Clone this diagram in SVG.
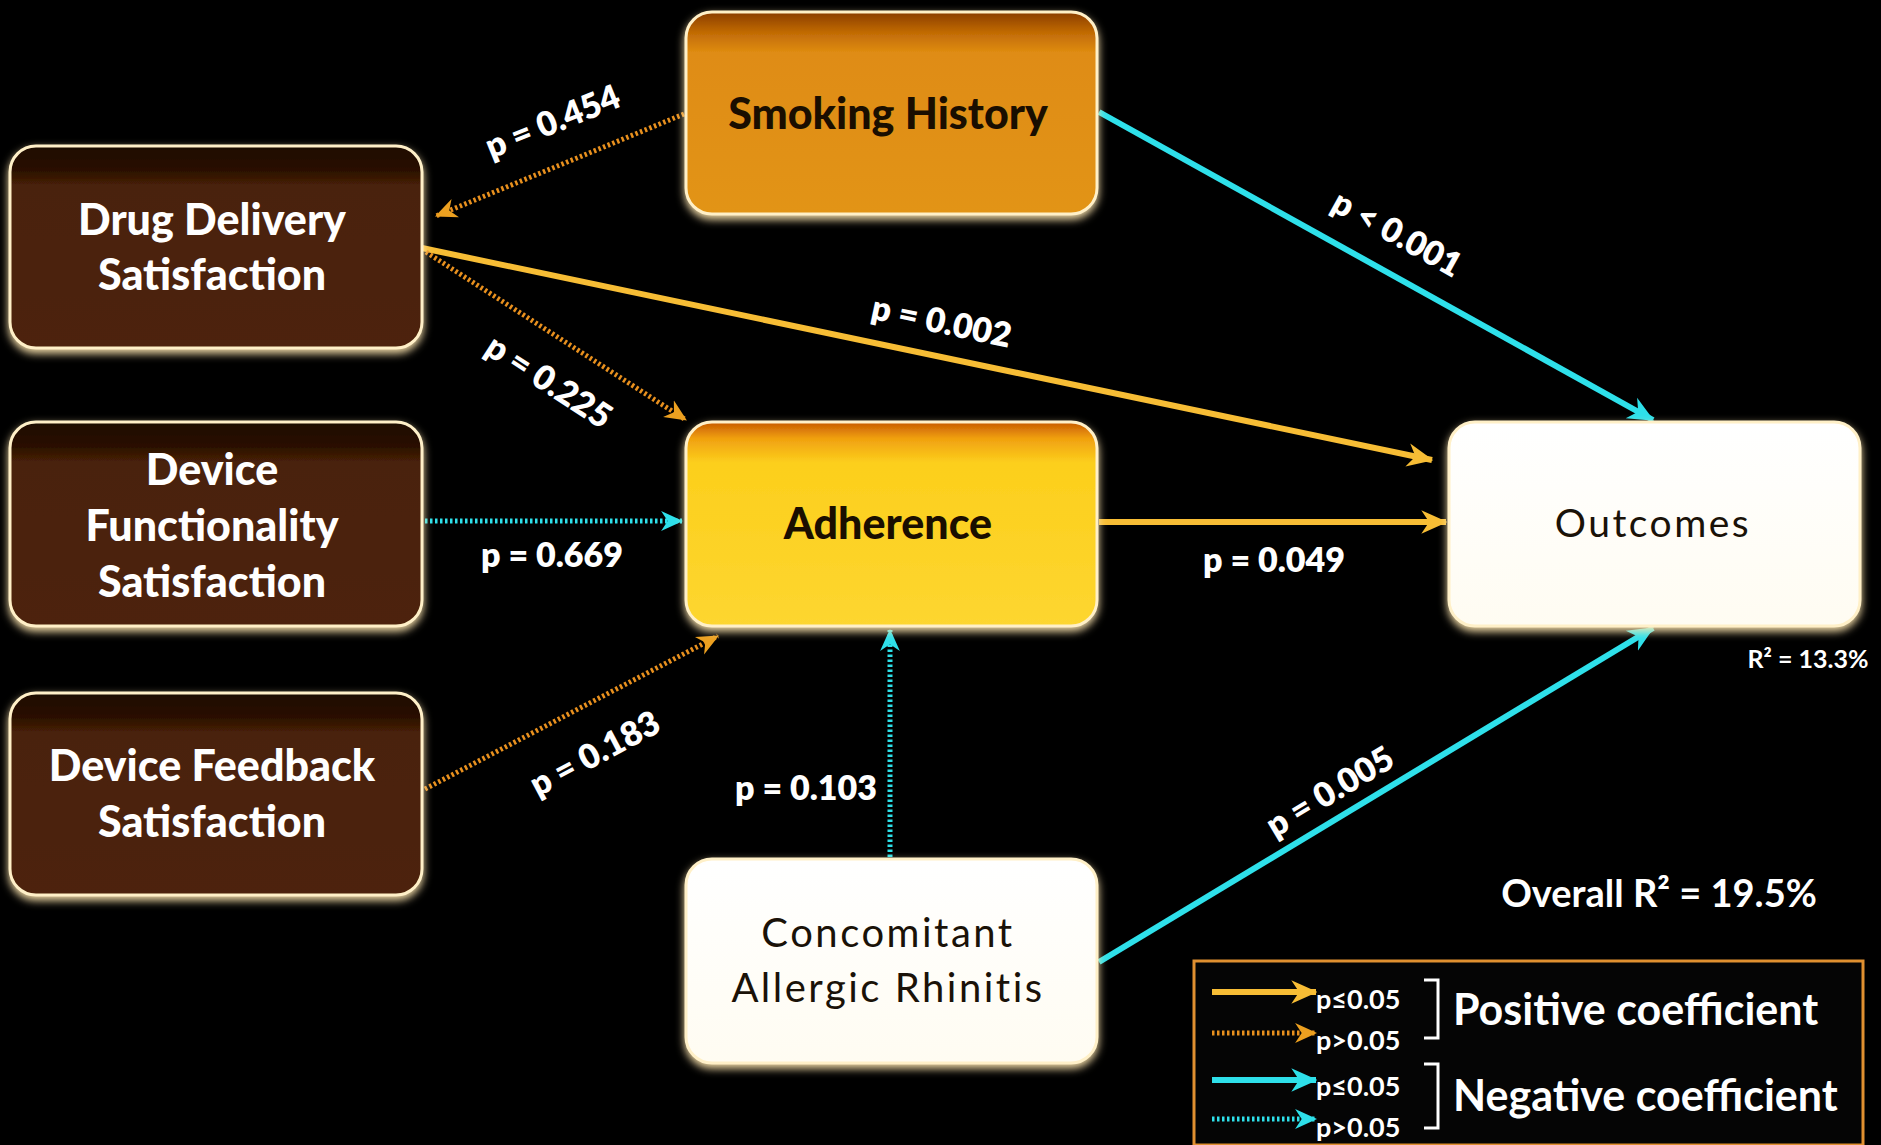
<svg xmlns="http://www.w3.org/2000/svg" width="1881" height="1145" viewBox="0 0 1881 1145">
<style>
.t{font-family:Lato,"Open Sans","Liberation Sans",sans-serif;font-weight:900;text-anchor:middle;dominant-baseline:central}
.w{fill:#ffffff}
.d{fill:#1a0e00}
.o{font-weight:400;letter-spacing:2.5px;fill:#1a1208}
.p{font-size:34px;font-weight:800}
.nd{stroke:#fff0c8;stroke-width:3}
.sg{stroke:#f7bd35;stroke-width:6;fill:none}
.dg{stroke:#e8901e;stroke-width:5;fill:none;stroke-dasharray:2.5 2.5}
.sc{stroke:#2ee0ea;stroke-width:6;fill:none}
.dc{stroke:#2ee0ea;stroke-width:5;fill:none;stroke-dasharray:2.5 2.5}
.lg{font-family:Lato,"Open Sans","Liberation Sans",sans-serif;font-weight:700;fill:#ffffff}
</style>
<defs>
<linearGradient id="gBrown" x1="0" y1="0" x2="0" y2="1">
<stop offset="0" stop-color="#1e0a00"/><stop offset="0.12" stop-color="#2a1002"/><stop offset="0.2" stop-color="#4a2208"/><stop offset="1" stop-color="#4d2409"/>
</linearGradient>
<linearGradient id="gSmoke" x1="0" y1="0" x2="0" y2="1">
<stop offset="0" stop-color="#8a3c00"/><stop offset="0.1" stop-color="#c06a05"/><stop offset="0.2" stop-color="#df8c12"/><stop offset="1" stop-color="#e29414"/>
</linearGradient>
<linearGradient id="gAdh" x1="0" y1="0" x2="0" y2="1">
<stop offset="0" stop-color="#c85a00"/><stop offset="0.08" stop-color="#f0a010"/><stop offset="0.2" stop-color="#fccf1c"/><stop offset="1" stop-color="#fdd630"/>
</linearGradient>
<linearGradient id="gWhite" x1="0" y1="0" x2="0" y2="1">
<stop offset="0" stop-color="#ffffff"/><stop offset="1" stop-color="#fffcf2"/>
</linearGradient>
<filter id="glow" x="-10%" y="-15%" width="120%" height="135%">
<feGaussianBlur in="SourceAlpha" stdDeviation="4" result="b"/>
<feOffset in="b" dy="4" result="o"/>
<feFlood flood-color="#ffe7b0" flood-opacity="0.95"/>
<feComposite in2="o" operator="in" result="g"/>
<feMerge><feMergeNode in="g"/><feMergeNode in="SourceGraphic"/></feMerge>
</filter>
<marker id="ag" viewBox="0 0 20 20" refX="19" refY="10" markerWidth="26" markerHeight="26" markerUnits="userSpaceOnUse" orient="auto"><path d="M0,1 L20,10 L0,19 L6,10 z" fill="#f7bd35"/></marker>
<marker id="ao" viewBox="0 0 20 20" refX="19" refY="10" markerWidth="22" markerHeight="22" markerUnits="userSpaceOnUse" orient="auto"><path d="M0,1 L20,10 L0,19 L6,10 z" fill="#eca020"/></marker>
<marker id="ac" viewBox="0 0 20 20" refX="19" refY="10" markerWidth="26" markerHeight="26" markerUnits="userSpaceOnUse" orient="auto"><path d="M0,1 L20,10 L0,19 L6,10 z" fill="#2ee0ea"/></marker>
<marker id="acd" viewBox="0 0 20 20" refX="19" refY="10" markerWidth="22" markerHeight="22" markerUnits="userSpaceOnUse" orient="auto"><path d="M0,1 L20,10 L0,19 L6,10 z" fill="#2ee0ea"/></marker>
</defs>
<rect x="0" y="0" width="1881" height="1145" fill="#000000"/>

<g id="connectors">
<line class="dg" x1="684" y1="114" x2="436" y2="216" marker-end="url(#ao)"/>
<line class="sc" x1="1099" y1="112" x2="1653" y2="420" marker-end="url(#ac)"/>
<line class="sg" x1="422" y1="248" x2="1432" y2="460" marker-end="url(#ag)"/>
<line class="dg" x1="426" y1="252" x2="686" y2="420" marker-end="url(#ao)"/>
<line class="dc" x1="425" y1="521" x2="682" y2="521" marker-end="url(#acd)"/>
<line class="dg" x1="425" y1="789" x2="718" y2="636" marker-end="url(#ao)"/>
<line class="sg" x1="1099" y1="522" x2="1446" y2="522" marker-end="url(#ag)"/>
<line class="dc" x1="890" y1="857" x2="890" y2="630" marker-end="url(#acd)"/>
<line class="sc" x1="1099" y1="962" x2="1653" y2="628" marker-end="url(#ac)"/>
<text class="t w p" transform="translate(552,120) rotate(-22)">p = 0.454</text>
<text class="t w p" transform="translate(1398,232) rotate(29)">p &lt; 0.001</text>
<text class="t w p" transform="translate(942,320) rotate(12)">p = 0.002</text>
<text class="t w p" transform="translate(550,380) rotate(33)">p = 0.225</text>
<text class="t w p" x="552" y="553">p = 0.669</text>
<text class="t w p" transform="translate(594,752) rotate(-28)">p = 0.183</text>
<text class="t w p" x="1274" y="558">p = 0.049</text>
<text class="t w p" x="806" y="786">p = 0.103</text>
<text class="t w p" transform="translate(1329,790) rotate(-31)">p = 0.005</text>
</g>

<g id="smoking">
<rect class="nd" x="686" y="12" width="411" height="202" rx="26" fill="url(#gSmoke)" filter="url(#glow)"/>
<text class="t d" x="888" y="112" font-size="43">Smoking History</text>
</g>
<g id="drug-delivery">
<rect class="nd" x="10" y="146" width="412" height="202" rx="26" fill="url(#gBrown)" filter="url(#glow)"/>
<text class="t w" x="212" y="218" font-size="43">Drug Delivery</text>
<text class="t w" x="212" y="273" font-size="43">Satisfaction</text>
</g>
<g id="device-functionality">
<rect class="nd" x="10" y="422" width="412" height="204" rx="26" fill="url(#gBrown)" filter="url(#glow)"/>
<text class="t w" x="212" y="468" font-size="43">Device</text>
<text class="t w" x="212" y="524" font-size="43">Functionality</text>
<text class="t w" x="212" y="580" font-size="43">Satisfaction</text>
</g>
<g id="device-feedback">
<rect class="nd" x="10" y="693" width="412" height="202" rx="26" fill="url(#gBrown)" filter="url(#glow)"/>
<text class="t w" x="212" y="764" font-size="43">Device Feedback</text>
<text class="t w" x="212" y="820" font-size="43">Satisfaction</text>
</g>
<g id="adherence">
<rect class="nd" x="686" y="422" width="411" height="204" rx="26" fill="url(#gAdh)" filter="url(#glow)"/>
<text class="t d" x="888" y="522" font-size="43">Adherence</text>
</g>
<g id="outcomes">
<rect class="nd" x="1449" y="422" width="411" height="204" rx="26" fill="url(#gWhite)" filter="url(#glow)"/>
<text class="t o" x="1653" y="522" font-size="39">Outcomes</text>
</g>
<g id="concomitant">
<rect class="nd" x="686" y="859" width="411" height="204" rx="26" fill="url(#gWhite)" filter="url(#glow)"/>
<text class="t o" x="888" y="932" font-size="40">Concomitant</text>
<text class="t o" x="888" y="987" font-size="40">Allergic Rhinitis</text>
</g>

<text class="lg" x="1808" y="668" font-size="25" text-anchor="middle" font-weight="800">R² = 13.3%</text>
<text class="lg" x="1659" y="907" font-size="38" text-anchor="middle" font-weight="800">Overall R² = 19.5%</text>

<g id="legend">
<rect x="1194" y="961" width="669" height="184" fill="#050505" stroke="#e09030" stroke-width="3"/>
<line class="sg" x1="1212" y1="992" x2="1316" y2="992" marker-end="url(#ag)"/>
<line class="dg" x1="1212" y1="1033" x2="1316" y2="1033" marker-end="url(#ao)"/>
<line class="sc" x1="1212" y1="1080" x2="1316" y2="1080" marker-end="url(#ac)"/>
<line class="dc" x1="1212" y1="1119" x2="1316" y2="1119" marker-end="url(#acd)"/>
<text class="lg" x="1316" y="1009" font-size="27">p≤0.05</text>
<text class="lg" x="1316" y="1050" font-size="27">p&gt;0.05</text>
<text class="lg" x="1316" y="1096" font-size="27">p≤0.05</text>
<text class="lg" x="1316" y="1137" font-size="27">p&gt;0.05</text>
<path d="M1424,980 H1438 V1038 H1424" fill="none" stroke="#ffffff" stroke-width="3"/>
<path d="M1424,1064 H1438 V1128 H1424" fill="none" stroke="#ffffff" stroke-width="3"/>
<text class="lg" x="1453" y="1025" font-size="43" font-weight="600">Positive coefficient</text>
<text class="lg" x="1453" y="1111" font-size="43" font-weight="600">Negative coefficient</text>
</g>
</svg>
